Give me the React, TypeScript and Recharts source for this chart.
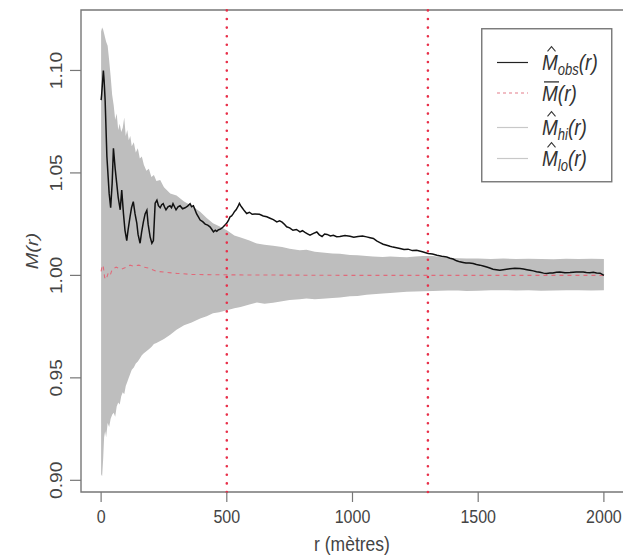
import React from 'react';
import { ComposedChart, Area, Line, XAxis, YAxis, ReferenceLine, ReferenceArea, Legend } from 'recharts';

const bandR = [0,4,8,12,16,20,26,32,38,44,50,56,62,68,74,80,86,92,98,104,110,116,122,130,138,146,154,162,170,180,190,200,210,220,235,250,275,300,330,360,394,420,445,470,500,530,555,590,620,650,684,720,750,790,817,850,880,920,950,990,1020,1056,1081,1120,1150,1189,1216,1250,1280,1320,1348,1380,1420,1454,1500,1550,1600,1650,1700,1750,1800,1850,1900,1950,2000];
const bandHi = [1.119,1.121,1.120,1.118,1.116,1.114,1.112,1.105,1.097,1.088,1.083,1.076,1.079,1.071,1.074,1.070,1.072,1.077,1.068,1.071,1.066,1.068,1.063,1.065,1.060,1.062,1.057,1.058,1.054,1.051,1.052,1.048,1.049,1.046,1.0465,1.043,1.040,1.039,1.036,1.034,1.031,1.028,1.0255,1.024,1.022,1.0195,1.0185,1.017,1.0155,1.015,1.0145,1.0138,1.013,1.0123,1.0125,1.0115,1.0112,1.0107,1.0105,1.010,1.0098,1.0094,1.0092,1.009,1.0092,1.009,1.0088,1.0092,1.0094,1.0094,1.009,1.0086,1.0084,1.0082,1.0083,1.008,1.0082,1.008,1.0081,1.008,1.0079,1.0081,1.008,1.0081,1.008];
const bandLo = [0.903,0.902,0.910,0.921,0.924,0.921,0.928,0.926,0.930,0.932,0.933,0.931,0.936,0.938,0.937,0.941,0.943,0.942,0.946,0.948,0.950,0.952,0.954,0.955,0.957,0.958,0.9595,0.961,0.962,0.963,0.964,0.965,0.9665,0.967,0.968,0.969,0.971,0.9735,0.9757,0.977,0.979,0.980,0.9815,0.982,0.983,0.984,0.9846,0.9858,0.9868,0.9862,0.9866,0.9874,0.988,0.9884,0.9887,0.9883,0.9886,0.989,0.9892,0.9898,0.990,0.9905,0.9908,0.9912,0.9914,0.9918,0.992,0.9921,0.9922,0.9924,0.9925,0.9926,0.9926,0.9924,0.9925,0.9927,0.9928,0.9926,0.9927,0.9925,0.9926,0.9927,0.9927,0.9926,0.9927];

const obsR = [0,2,9,12,16,23,28,32,38,44,49,56,62,68,76,82,89,95,102,107,115,121,128,135,142,147,155,161,168,175,182,187,195,202,208,215,222,228,235,241,247,252,258,266,274,280,286,292,298,306,314,324,334,344,354,360,367,373,380,387,394,404,414,424,433,440,447,454,460,466,473,480,486,493,500,507,513,519,525,531,537,544,550,555,561,570,579,590,601,612,630,645,659,672,685,699,710,720,730,738,750,763,777,791,801,811,821,831,845,858,868,879,889,899,912,924,937,950,970,990,1005,1022,1040,1056,1070,1083,1096,1109,1122,1136,1149,1161,1175,1189,1205,1221,1238,1255,1278,1301,1318,1336,1355,1375,1388,1400,1414,1427,1440,1451,1465,1480,1493,1507,1520,1534,1546,1559,1572,1586,1606,1626,1646,1666,1680,1694,1706,1719,1732,1746,1760,1772,1785,1797,1811,1825,1845,1865,1890,1918,1930,1944,1958,1971,1985,2000];
const obsM = [1.0855,1.088,1.100,1.095,1.0855,1.058,1.048,1.040,1.033,1.045,1.062,1.052,1.045,1.038,1.032,1.0416,1.030,1.022,1.017,1.022,1.0286,1.033,1.036,1.030,1.0255,1.020,1.0157,1.021,1.026,1.030,1.0318,1.025,1.0188,1.0157,1.017,1.0352,1.0367,1.034,1.033,1.0345,1.035,1.0335,1.032,1.0335,1.034,1.033,1.035,1.0335,1.032,1.0335,1.034,1.0325,1.033,1.0338,1.035,1.0335,1.034,1.0322,1.030,1.0285,1.027,1.0262,1.025,1.0245,1.0237,1.0225,1.0212,1.022,1.0215,1.0222,1.0225,1.023,1.0237,1.0246,1.0255,1.027,1.0286,1.029,1.030,1.0312,1.032,1.0335,1.0351,1.034,1.033,1.0315,1.0302,1.0308,1.0298,1.030,1.0298,1.029,1.0286,1.0279,1.0272,1.0261,1.0266,1.026,1.0248,1.0237,1.0232,1.022,1.0224,1.0212,1.0218,1.021,1.0203,1.0196,1.0205,1.0212,1.0198,1.019,1.0202,1.020,1.0192,1.0196,1.0189,1.019,1.0195,1.0191,1.0186,1.019,1.0192,1.0188,1.0184,1.018,1.0168,1.016,1.0152,1.0147,1.0142,1.0138,1.0135,1.0131,1.0126,1.0128,1.0121,1.0123,1.0115,1.0107,1.0104,1.0098,1.0093,1.009,1.0084,1.008,1.0071,1.0066,1.0063,1.006,1.0061,1.0058,1.0053,1.005,1.0046,1.0041,1.0036,1.003,1.0028,1.0025,1.0029,1.0032,1.0035,1.0034,1.0031,1.0028,1.0025,1.0022,1.0018,1.0015,1.0011,1.0009,1.0012,1.0012,1.0015,1.0017,1.0013,1.0014,1.0016,1.0017,1.0014,1.0013,1.0015,1.0012,1.0011,1.000];

const meanR = [0,4,8,14,20,28,36,44,60,80,100,115,130,150,170,190,220,260,300,360,450,600,800,1000,1300,1600,2000];
const meanM = [1.002,1.0045,1.005,0.999,0.998,1.001,1.000,1.003,1.004,1.003,1.004,1.005,1.0045,1.005,1.004,1.0035,1.002,1.0015,1.001,1.0005,1.0003,1.0002,1.0001,1.0,1.0,1.0,1.0];

const xTicks = [0, 500, 1000, 1500, 2000];
const yTicks = [0.9, 0.95, 1.0, 1.05, 1.1];
const vLines = [500, 1300];
const xDomain = [-80, 2080];
const yDomain = [0.8943, 1.1295];

const bandData = bandR.map((r, i) => ({ r, band: [bandLo[i], bandHi[i]] }));
const obsData = obsR.map((r, i) => ({ r, v: obsM[i] }));
const meanData = meanR.map((r, i) => ({ r, v: meanM[i] }));

const FONT = '"Liberation Sans", Arial, Helvetica, sans-serif';
const SY = 1.2;
const TXT = '#444';
const AX = '#777';

const XTick = (props: any) => {
  const { x, payload } = props;
  return (
    <g transform={`translate(${x},523) scale(1,${SY})`}>
      <text x={0} y={0} textAnchor="middle" fontSize={16} fill={TXT} fontFamily={FONT}>{payload.value}</text>
    </g>
  );
};

const YTick = (props: any) => {
  const { y, payload } = props;
  return (
    <g transform={`translate(62,${y}) scale(1,${SY}) rotate(-90)`}>
      <text x={0} y={0} textAnchor="middle" fontSize={16} fill={TXT} fontFamily={FONT}>{Number(payload.value).toFixed(2)}</text>
    </g>
  );
};

const XTitle = () => (
  <g transform={`translate(352,551) scale(1,${SY})`}>
    <text x={0} y={0} textAnchor="middle" fontSize={17.5} fill={TXT} fontFamily={FONT}>r (mètres)</text>
  </g>
);

const YTitle = () => (
  <g transform={`translate(38,251) scale(1,${SY}) rotate(-90)`}>
    <text x={0} y={0} textAnchor="middle" fontSize={16.5} fontStyle="italic" fill={TXT} fontFamily={FONT}>M(r)</text>
  </g>
);

const MathLabel = ({ x, y, sub, mark }: any) => (
  <g transform={`translate(${x},${y}) scale(1,${SY})`}>
    <text x={0} y={0} fontSize={19} fontStyle="italic" fill="#333" fontFamily={FONT}>
      M
      {sub ? <tspan fontSize={13} dy={4}>{sub}</tspan> : null}
      <tspan dy={sub ? -4 : 0}>(r)</tspan>
    </text>
    {mark === 'hat' ? (
      <polyline points="5.5,-15.5 9.5,-19.5 13.5,-15.5" fill="none" stroke="#333" strokeWidth={1.1} />
    ) : (
      <line x1={2} x2={17} y1={-15.5} y2={-15.5} stroke="#333" strokeWidth={1.1} />
    )}
  </g>
);

const legendRows = [
  { sub: 'obs', mark: 'hat', color: '#222', dash: undefined },
  { sub: '', mark: 'bar', color: '#e47c8a', dash: '3 3' },
  { sub: 'hi', mark: 'hat', color: '#c8c8c8', dash: undefined },
  { sub: 'lo', mark: 'hat', color: '#c8c8c8', dash: undefined },
];
const legendY = [34.5, 65, 99.5, 130.5];

const LegendBox = () => (
  <svg width={132} height={156} style={{ display: 'block' }}>
    <rect x={0.75} y={0.75} width={130} height={153} fill="#fff" stroke={AX} strokeWidth={1.4} />
    {legendRows.map((row, i) => (
      <g key={i}>
        <line x1={16} x2={47} y1={legendY[i]} y2={legendY[i]} stroke={row.color} strokeWidth={1.2} strokeDasharray={row.dash} />
        <MathLabel x={61} y={legendY[i] + 7.5} sub={row.sub} mark={row.mark} />
      </g>
    ))}
  </svg>
);

export default function App() {
  return (
    <div style={{ position: 'absolute', left: 0, top: 0, width: 623, height: 558, overflow: 'hidden', background: '#fff' }}>
      <ComposedChart width={640} height={558} margin={{ top: 10, right: 16, bottom: 0, left: 0 }}>
        <XAxis
          dataKey="r"
          type="number"
          domain={xDomain}
          ticks={xTicks}
          allowDataOverflow
          height={66}
          axisLine={false}
          tickSize={10}
          tickLine={{ stroke: AX, strokeWidth: 1.2 }}
          tick={XTick}
          label={{ content: XTitle }}
        />
        <YAxis
          type="number"
          domain={yDomain}
          ticks={yTicks}
          allowDataOverflow
          width={81}
          axisLine={false}
          tickSize={11}
          tickLine={{ stroke: AX, strokeWidth: 1.2 }}
          tick={YTick}
          label={{ content: YTitle }}
        />
        <Area data={bandData} dataKey="band" type="linear" fill="#bebebe" fillOpacity={1} stroke="none" isAnimationActive={false} />
        <Line data={meanData} dataKey="v" type="linear" stroke="#e06a7a" strokeWidth={1.1} strokeDasharray="4 4" dot={false} isAnimationActive={false} />
        <Line data={obsData} dataKey="v" type="linear" stroke="#111" strokeWidth={1.5} dot={false} isAnimationActive={false} />
        {vLines.map((v) => (
          <ReferenceLine key={v} x={v} stroke="#e8304a" strokeWidth={2.6} strokeDasharray="0 8.6" strokeLinecap="round" />
        ))}
        <ReferenceArea x1={xDomain[0]} x2={xDomain[1]} y1={yDomain[0]} y2={yDomain[1]} fill="none" stroke={AX} strokeWidth={1.4} ifOverflow="visible" />
        <Legend
          layout="vertical"
          align="center"
          verticalAlign="middle"
          content={LegendBox}
          wrapperStyle={{ position: 'absolute', left: 481, top: 28, width: 132, height: 156 }}
        />
      </ComposedChart>
    </div>
  );
}
